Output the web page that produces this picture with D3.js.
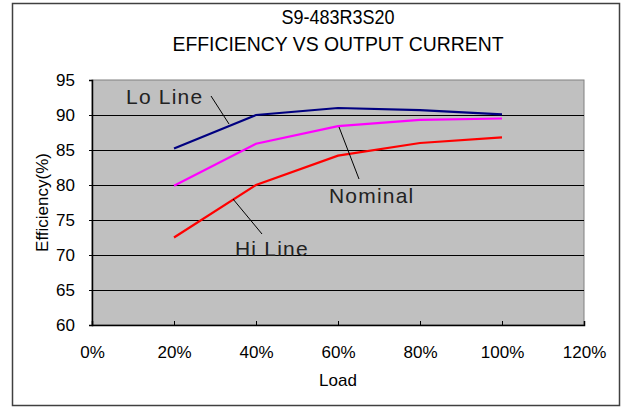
<!DOCTYPE html>
<html><head><meta charset="utf-8">
<script src="https://cdn.jsdelivr.net/npm/d3@7"></script>
<style>body{margin:0;background:#fff}svg{display:block;font-family:"Liberation Sans",Arial,sans-serif}</style>
</head><body>
<svg id="c" width="623" height="407"></svg>
<script>
const loads = [0.2, 0.4, 0.6, 0.8, 1.0];
const loLine = [85.2, 90.0, 91.0, 90.7, 90.1];
const nominal = [79.9, 85.9, 88.4, 89.3, 89.5];
const hiLine = [72.5, 80.0, 84.2, 86.0, 86.8];
const xTicks = [0, 0.2, 0.4, 0.6, 0.8, 1.0, 1.2];
const yTicks = [60, 65, 70, 75, 80, 85, 90, 95];
const titleLines = ["S9-483R3S20", "EFFICIENCY VS OUTPUT CURRENT"];

const svg = d3.select("#c");
const L = 92, R = 584, T = 80, B = 325;
const x = d3.scaleLinear().domain([0, 1.2]).range([L, R]);
const y = d3.scaleLinear().domain([60, 95]).range([B, T]);
const FONT = "Liberation Sans, Arial, sans-serif";

svg.append("rect").attr("x", 12.5).attr("y", 3.5).attr("width", 607).attr("height", 402)
  .attr("fill", "#fff").attr("stroke", "#404040").attr("stroke-width", 1.5);

svg.append("rect").attr("x", L).attr("y", T).attr("width", R - L).attr("height", B - T)
  .attr("fill", "#c0c0c0").attr("stroke", "#808080").attr("stroke-width", 1);

// gridlines
svg.append("g").selectAll("line").data(yTicks.filter(v => v > 60 && v < 95)).join("line")
  .attr("x1", L).attr("x2", R).attr("y1", d => Math.round(y(d)) + 0.5).attr("y2", d => Math.round(y(d)) + 0.5)
  .attr("stroke", "#000").attr("stroke-width", 1);

// axes
const xAxis = d3.axisBottom(x).tickValues(xTicks).tickFormat(d3.format(".0%")).tickSize(-4).tickPadding(20);
const gx = svg.append("g").attr("transform", `translate(0,${B})`).call(xAxis);
gx.select(".domain").attr("stroke", "#000").attr("stroke-width", 1.5);
gx.selectAll("text").attr("font-size", 17).attr("fill", "#000").attr("font-family", FONT)
  .attr("dy", null).attr("y", 33);

const yAxis = d3.axisLeft(y).tickValues(yTicks).tickSize(3).tickPadding(14);
const gy = svg.append("g").attr("transform", `translate(${L},0)`).call(yAxis);
gy.select(".domain").attr("stroke", "#000").attr("stroke-width", 1.5);
gy.selectAll("text").attr("font-size", 17).attr("fill", "#000").attr("font-family", FONT);

// series
const line = d3.line().x((d, i) => x(loads[i])).y(d => y(d));
[[loLine, "#000080"], [nominal, "#ff00ff"], [hiLine, "#ff0000"]].forEach(([s, c]) => {
  svg.append("path").datum(s).attr("d", line).attr("fill", "none").attr("stroke", c).attr("stroke-width", 2.2);
});

// annotations
const ann = [
  {t: "Lo Line", tx: 126, ty: 104, x1: 211, y1: 96, x2: 229, y2: 124},
  {t: "Nominal", tx: 329, ty: 203, x1: 339, y1: 127, x2: 359, y2: 179},
  {t: "Hi Line", tx: 235, ty: 256, x1: 233, y1: 199, x2: 262, y2: 234}
];
ann.forEach(a => {
  svg.append("line").attr("x1", a.x1).attr("y1", a.y1).attr("x2", a.x2).attr("y2", a.y2)
    .attr("stroke", "#000").attr("stroke-width", 1);
  svg.append("text").attr("x", a.tx).attr("y", a.ty).text(a.t)
    .attr("font-size", 21).attr("letter-spacing", 1.2).attr("fill", "#222");
});

// titles
const cx = (L + R) / 2;
const tScale = [0.9, 0.97];
svg.selectAll(".tt").data(titleLines).join("text").attr("class", "tt")
  .attr("transform", (d, i) => `translate(${cx},${24 + i * 27}) scale(${tScale[i]},1)`).attr("text-anchor", "middle")
  .attr("font-size", 20).attr("fill", "#000").text(d => d);

svg.append("text").attr("x", cx).attr("y", 386).attr("text-anchor", "middle")
  .attr("font-size", 17).text("Load");
svg.append("text").attr("transform", `translate(48,${(T + B) / 2}) rotate(-90)`).attr("text-anchor", "middle")
  .attr("font-size", 17).text("Efficiency(%)");
</script>
</body></html>
